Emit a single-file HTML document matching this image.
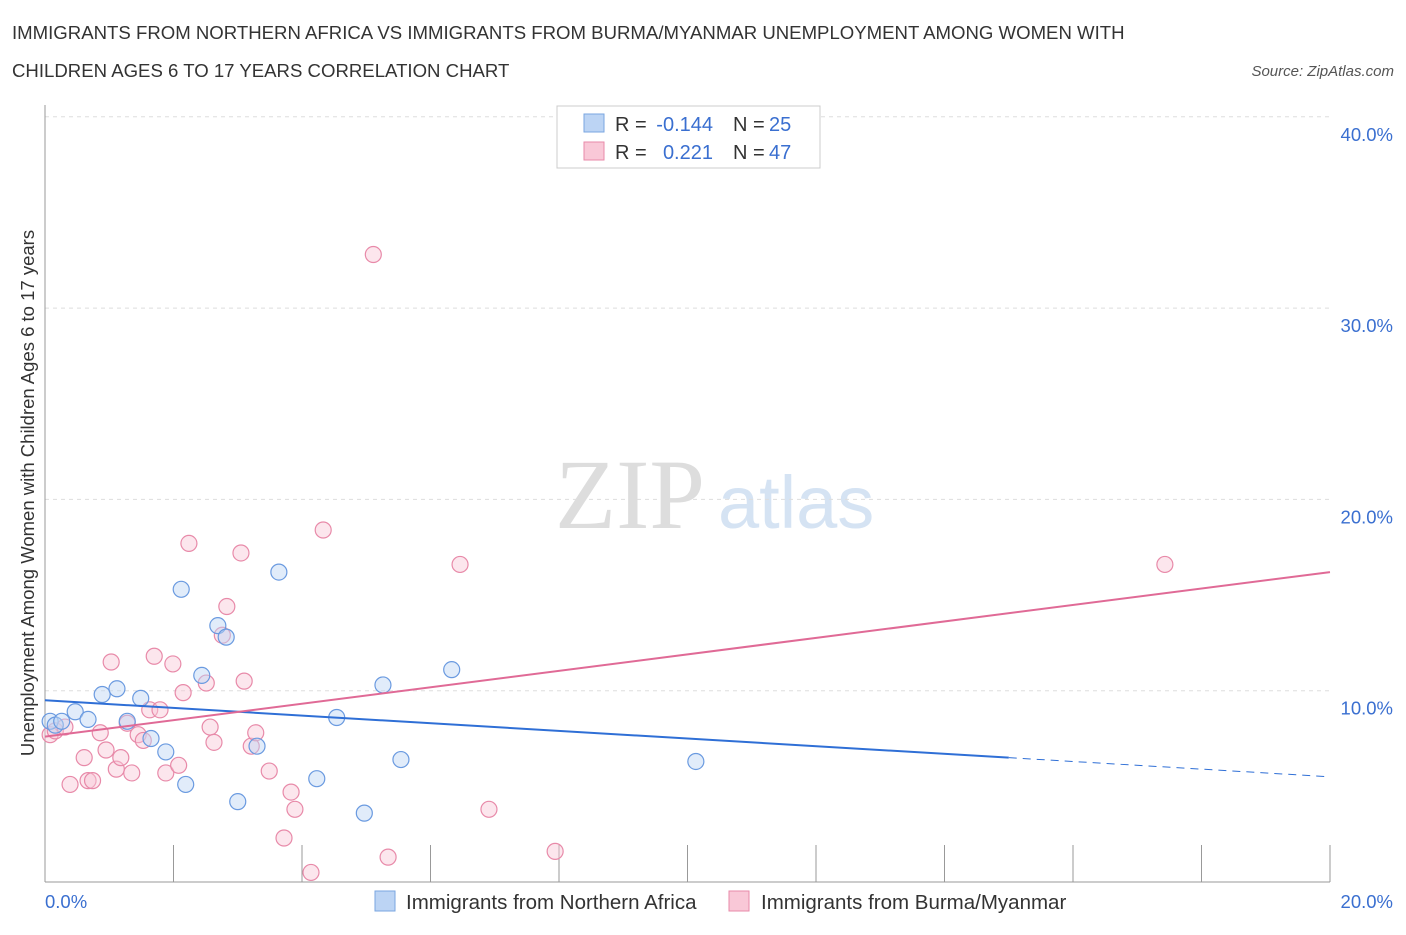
<!DOCTYPE html>
<html><head><meta charset="utf-8">
<style>
body{margin:0;background:#fff;}
svg text{font-family:"Liberation Sans",sans-serif;}
</style></head>
<body>
<svg width="1406" height="930" id="chart">
<text x="12" y="39" font-size="18.6" fill="#333">IMMIGRANTS FROM NORTHERN AFRICA VS IMMIGRANTS FROM BURMA/MYANMAR UNEMPLOYMENT AMONG WOMEN WITH</text>
<text x="12" y="77" font-size="18.6" fill="#333">CHILDREN AGES 6 TO 17 YEARS CORRELATION CHART</text>
<text x="1394" y="76" font-size="15" fill="#555" font-style="italic" text-anchor="end">Source: ZipAtlas.com</text>
<text x="555" y="528" font-size="100" fill="#ddd" style="font-family:'Liberation Serif',serif">ZIP</text>
<text x="718" y="528" font-size="74" fill="#d5e3f3">atlas</text>
<g id="grid"></g>
<g id="axes"></g>
<g id="marks"></g>
<text transform="translate(34,493) rotate(-90)" font-size="18.5" fill="#333" text-anchor="middle">Unemployment Among Women with Children Ages 6 to 17 years</text>
<g>
<rect x="557" y="106" width="263" height="62" fill="#fff" stroke="#ccc"/>
<rect x="584" y="114" width="20" height="18" fill="#bcd4f4" stroke="#7aa6e0"/>
<text x="615" y="131" font-size="20" fill="#333">R =</text>
<text x="713" y="131" font-size="20" fill="#3a6fd0" text-anchor="end">-0.144</text>
<text x="733" y="131" font-size="20" fill="#333">N =</text>
<text x="769" y="131" font-size="20" fill="#3a6fd0">25</text>
<rect x="584" y="142" width="20" height="18" fill="#f9c8d7" stroke="#e88aa9"/>
<text x="615" y="159" font-size="20" fill="#333">R =</text>
<text x="713" y="159" font-size="20" fill="#3a6fd0" text-anchor="end">0.221</text>
<text x="733" y="159" font-size="20" fill="#333">N =</text>
<text x="769" y="159" font-size="20" fill="#3a6fd0">47</text>
</g>
<g>
<rect x="375" y="891" width="20" height="20" fill="#bcd4f4" stroke="#7aa6e0"/>
<text x="406" y="909" font-size="20.5" fill="#333">Immigrants from Northern Africa</text>
<rect x="729" y="891" width="20" height="20" fill="#f9c8d7" stroke="#e88aa9"/>
<text x="761" y="909" font-size="20.5" fill="#333">Immigrants from Burma/Myanmar</text>
</g>
</svg>
<script>
const yTicks=[10,20,30,40];
const xTickLabels=["0.0%","20.0%"];
const blueX=[0.08,0.16,0.26,0.47,0.67,0.89,1.12,1.28,1.49,1.65,1.88,2.12,2.19,2.44,2.69,2.82,3.0,3.3,3.64,4.23,4.54,4.97,5.26,5.54,6.33];
const blueY=[8.4,8.2,8.4,8.9,8.5,9.8,10.1,8.4,9.6,7.5,6.8,15.3,5.1,10.8,13.4,12.8,4.2,7.1,16.2,5.4,8.6,3.6,10.3,6.4,11.1];
const blueX2=[10.13];const blueY2=[6.3];
const pinkX=[0.08,0.16,0.31,0.39,0.61,0.67,0.74,0.86,0.95,1.03,1.11,1.18,1.28,1.35,1.45,1.53,1.63,1.7,1.79,1.88,1.99,2.08,2.15,2.24,2.51,2.57,2.63,2.76,2.83,3.05,3.1,3.21,3.28,3.49,3.72,3.83,3.89,4.14,4.33,5.11,5.34,6.46,6.91,7.94,17.43];
const pinkY=[7.7,7.9,8.1,5.1,6.5,5.3,5.3,7.8,6.9,11.5,5.9,6.5,8.3,5.7,7.7,7.4,9.0,11.8,9.0,5.7,11.4,6.1,9.9,17.7,10.4,8.1,7.3,12.9,14.4,17.2,10.5,7.1,7.8,5.8,2.3,4.7,3.8,0.5,18.4,32.8,1.3,16.6,3.8,1.6,16.6];
const blueTrend=[9.5,6.5,5.5];const blueTrendX=[0,15.0,20];
const pinkTrend=[7.6,16.2];const pinkTrendX=[0,20];
const X=v=>45+v/20*1285, Y=v=>882-v*19.13;
const NS="http://www.w3.org/2000/svg";
function mk(t,a,p){const e=document.createElementNS(NS,t);for(const k in a)e.setAttribute(k,a[k]);p.appendChild(e);return e;}
const grid=document.getElementById('grid'),axes=document.getElementById('axes'),marks=document.getElementById('marks');
yTicks.forEach(t=>{const l=mk('line',{x1:45,x2:1330,y1:Y(t),y2:Y(t),stroke:'#ddd','stroke-dasharray':'4,4'},grid);


const tx=mk('text',{x:1393,y:Y(t)+24,'font-size':18.5,fill:'#3a6fd0','text-anchor':'end'},axes);tx.textContent=t.toFixed(1)+'%';

});
const ya=mk('line',{x1:45,x2:45,y1:105,y2:882,stroke:'#999'},axes);


const xa=mk('line',{x1:45,x2:1330,y1:882,y2:882,stroke:'#999'},axes);


for(let i=1;i<=10;i++){const v=i*2;const tk=mk('line',{x1:X(v),x2:X(v),y1:882,y2:845,stroke:'#999'},axes);

}
const xl0=mk('text',{x:45,y:908,'font-size':18.5,fill:'#3a6fd0'},axes);xl0.textContent=xTickLabels[0];


const xl1=mk('text',{x:1393,y:908,'font-size':18.5,fill:'#3a6fd0','text-anchor':'end'},axes);xl1.textContent=xTickLabels[1];


function pts(xs,ys,fill,stroke,name){xs.forEach((x,i)=>{const c=mk('circle',{cx:X(x),cy:Y(ys[i]),r:8,fill:fill,'fill-opacity':0.45,stroke:stroke,'stroke-width':1.2},marks);

});}
pts(pinkX,pinkY,'#f9c8d7','#e88aa9','point-burma');
pts(blueX,blueY,'#bcd4f4','#6a9ae0','point-northern-africa');
pts(blueX2,blueY2,'#bcd4f4','#6a9ae0','point-northern-africa');
const bt=mk('line',{x1:X(blueTrendX[0]),y1:Y(blueTrend[0]),x2:X(blueTrendX[1]),y2:Y(blueTrend[1]),stroke:'#2f6fd6','stroke-width':2},marks);


const bd=mk('line',{x1:X(blueTrendX[1]),y1:Y(blueTrend[1]),x2:X(blueTrendX[2]),y2:Y(blueTrend[2]),stroke:'#2f6fd6','stroke-width':1,'stroke-dasharray':'8,6'},marks);


const pt=mk('line',{x1:X(pinkTrendX[0]),y1:Y(pinkTrend[0]),x2:X(pinkTrendX[1]),y2:Y(pinkTrend[1]),stroke:'#e06a96','stroke-width':2},marks);


</script>
</body></html>
